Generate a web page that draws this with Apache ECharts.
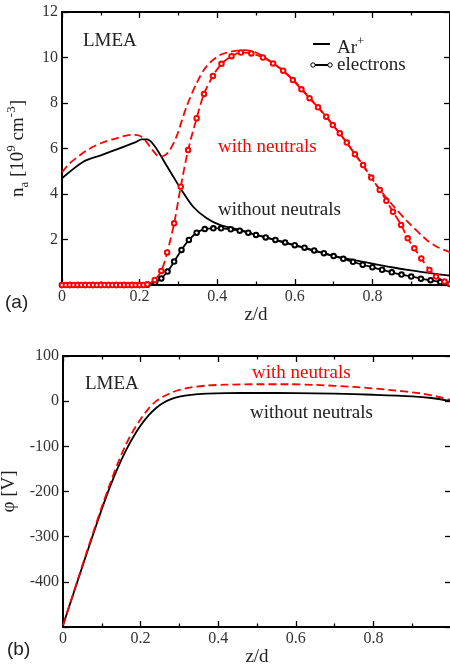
<!DOCTYPE html>
<html><head><meta charset="utf-8">
<script src="https://cdn.jsdelivr.net/npm/echarts@6/dist/echarts.min.js"></script>
<style>html,body{margin:0;padding:0;background:#fff}#c{width:450px;height:664px}</style>
</head><body><div id="c"></div>
<script>
// ---- panel (a): densities n_a [10^9 cm^-3] vs z/d ----
const zArNoN = [0, 0.055, 0.1, 0.15, 0.19, 0.205, 0.22, 0.24, 0.266, 0.287, 0.308, 0.338, 0.373, 0.407, 0.458, 0.5, 0.55, 0.6, 0.65, 0.7, 0.75, 0.8, 0.85, 0.9, 0.95, 1.0];
const arNoN  = [4.69, 5.42, 5.7, 6.02, 6.28, 6.4, 6.4, 6.08, 5.35, 4.76, 4.18, 3.44, 2.93, 2.64, 2.42, 2.21, 1.97, 1.74, 1.5, 1.28, 1.1, 0.94, 0.78, 0.64, 0.52, 0.41];

const zElNoN = [0, 0.02, 0.04, 0.06, 0.08, 0.1, 0.12, 0.14, 0.16, 0.18, 0.2, 0.22, 0.24, 0.256, 0.272, 0.289, 0.308, 0.327, 0.347, 0.368, 0.39, 0.41, 0.435, 0.458, 0.48, 0.5, 0.525, 0.55, 0.575, 0.6, 0.625, 0.65, 0.675, 0.7, 0.725, 0.75, 0.775, 0.8, 0.825, 0.85, 0.875, 0.9, 0.925, 0.95, 0.975, 1.0];
const elNoN  = [0, 0, 0, 0, 0, 0, 0, 0, 0, 0, 0, 0.01, 0.1, 0.29, 0.59, 1.03, 1.54, 1.98, 2.3, 2.46, 2.49, 2.49, 2.45, 2.39, 2.3, 2.2, 2.09, 1.98, 1.87, 1.75, 1.64, 1.52, 1.4, 1.27, 1.15, 1.02, 0.89, 0.78, 0.67, 0.56, 0.46, 0.37, 0.28, 0.21, 0.13, 0.04];

const zArN = [0, 0.02, 0.046, 0.07, 0.1, 0.14, 0.18, 0.2, 0.215, 0.23, 0.252, 0.265, 0.278, 0.295, 0.321, 0.347, 0.372, 0.407, 0.45, 0.47, 0.5, 0.55, 0.6, 0.65, 0.7, 0.75, 0.8, 0.82, 0.85, 0.89, 0.94, 0.97, 1.0];
const arN  = [4.95, 5.35, 5.7, 5.98, 6.23, 6.45, 6.6, 6.56, 6.35, 6.0, 5.64, 5.7, 5.93, 6.52, 7.84, 8.87, 9.6, 10.11, 10.3, 10.32, 10.22, 9.68, 8.95, 8.0, 7.0, 5.87, 4.65, 4.17, 3.55, 2.8, 1.98, 1.65, 1.44];

const zElN = [0, 0.01, 0.02, 0.03, 0.04, 0.05, 0.06, 0.07, 0.08, 0.09, 0.1, 0.11, 0.12, 0.13, 0.14, 0.15, 0.16, 0.17, 0.18, 0.19, 0.2, 0.21, 0.22, 0.239, 0.256, 0.271, 0.289, 0.306, 0.325, 0.347, 0.366, 0.389, 0.411, 0.437, 0.461, 0.488, 0.518, 0.544, 0.57, 0.595, 0.617, 0.638, 0.66, 0.681, 0.698, 0.716, 0.734, 0.755, 0.776, 0.797, 0.819, 0.836, 0.853, 0.874, 0.891, 0.908, 0.926, 0.947, 0.964, 0.986, 1.0];
const elN  = [0, 0, 0, 0, 0, 0, 0, 0, 0, 0, 0, 0, 0, 0, 0, 0, 0, 0, 0, 0, 0, 0, 0.03, 0.22, 0.62, 1.43, 2.71, 4.32, 5.93, 7.33, 8.4, 9.19, 9.72, 10.06, 10.22, 10.18, 10.0, 9.74, 9.42, 9.01, 8.6, 8.21, 7.81, 7.4, 7.03, 6.67, 6.26, 5.75, 5.27, 4.72, 4.18, 3.7, 3.22, 2.64, 2.05, 1.61, 1.17, 0.66, 0.37, 0.15, 0.05];

// ---- panel (b): potential phi [V] vs z/d ----
const zPhiNoN = [0, 0.02, 0.04, 0.06, 0.08, 0.1, 0.12, 0.14, 0.16, 0.18, 0.2, 0.22, 0.24, 0.26, 0.28, 0.3, 0.33, 0.37, 0.42, 0.5, 0.6, 0.7, 0.8, 0.9, 0.95, 1.0];
const phiNoN  = [-496, -444, -392, -340, -289, -239, -192, -150, -113, -81, -54, -32, -15, -3, 5, 10, 14, 16.5, 17.8, 18.2, 17.8, 16.5, 14.2, 10.8, 7, 0];
const zPhiN = [0, 0.02, 0.04, 0.06, 0.08, 0.1, 0.12, 0.14, 0.16, 0.18, 0.2, 0.22, 0.24, 0.26, 0.28, 0.3, 0.33, 0.37, 0.42, 0.5, 0.58, 0.65, 0.75, 0.84, 0.92, 0.96, 1.0];
const phiN  = [-496, -443, -390, -337, -285, -234, -186, -140, -100, -67, -40, -17, 0, 11, 19, 25, 30.5, 34.5, 36.5, 37.5, 37.5, 36, 31.5, 25, 17.5, 11, 3];

// tick settings
const xTicks = {min: 0, max: 1, interval: 0.2};
const yTicksA = {min: 0, max: 12, interval: 2};
const yTicksB = {min: -500, max: 100, interval: 100};

const SERIF = '"Liberation Serif", "DejaVu Serif", serif';
const SANS = '"Liberation Sans", Arial, sans-serif';
const RED = '#ff0000';
const zip = (z, v) => z.map((x, i) => [x, v[i]]);

function xAx(g, bottom) {
  return {
    type: 'value', gridIndex: g, min: xTicks.min, max: xTicks.max, interval: xTicks.interval,
    position: bottom ? 'bottom' : 'top',
    axisLine: {show: true, onZero: false, lineStyle: {color: '#000', width: 2}},
    axisTick: {show: true, inside: true, length: 6, lineStyle: {color: '#000', width: 1.3}},
    minorTick: {show: true, splitNumber: 2, length: 3.5, lineStyle: {color: '#000', width: 1.3}},
    splitLine: {show: false}, minorSplitLine: {show: false},
    axisLabel: bottom ? {show: true, margin: 4, color: '#333', fontFamily: SERIF, fontSize: 16,
      formatter: v => (v >= 1 ? '' : String(v))} : {show: false},
    name: bottom ? 'z/d' : '', nameLocation: 'middle', nameGap: 12,
    nameTextStyle: {fontFamily: SERIF, fontSize: 19, color: '#222'}
  };
}
function yAx(g, left, t, name, rich) {
  return {
    type: 'value', gridIndex: g, min: t.min, max: t.max, interval: t.interval,
    position: left ? 'left' : 'right',
    axisLine: {show: true, onZero: false, lineStyle: {color: '#000', width: 2}},
    axisTick: {show: true, inside: true, length: 6, lineStyle: {color: '#000', width: 1.3}},
    splitLine: {show: false},
    axisLabel: left ? {show: true, margin: 4, color: '#333', fontFamily: SERIF, fontSize: 16,
      formatter: v => (v === t.min ? '' : String(v))} : {show: false},
    name: left ? name : '', nameLocation: 'middle', nameRotate: 90, nameGap: 27,
    nameTextStyle: {fontFamily: SERIF, fontSize: 19, color: '#222', rich: rich}
  };
}
const richName = {
  n: {fontFamily: SERIF, fontSize: 19, color: '#222', lineHeight: 26, verticalAlign: 'middle'},
  p: {fontFamily: SERIF, fontSize: 13, color: '#222', lineHeight: 13, verticalAlign: 'top'},
  s: {fontFamily: SERIF, fontSize: 13, color: '#222', lineHeight: 13, verticalAlign: 'bottom'}
};

function line(xi, yi, data, color, dashed, markers) {
  return {
    type: 'line', xAxisIndex: xi, yAxisIndex: yi, data: data,
    smooth: 0.3, showSymbol: markers, showAllSymbol: true,
    symbol: 'emptyCircle', symbolSize: 4.5,
    itemStyle: {color: color, borderWidth: 1},
    lineStyle: {color: color, width: 1.8, type: dashed ? [8, 4] : 'solid'},
    emphasis: {disabled: true}, silent: true, animation: false, clip: true
  };
}
function txt(x, y, text, opts) {
  return Object.assign({type: 'text', x: x, y: y, silent: true,
    style: Object.assign({text: text, font: '19px ' + SERIF, fill: '#222',
      textAlign: 'left', align: 'left', textVerticalAlign: 'middle', verticalAlign: 'middle'}, opts || {})});
}

const chart = echarts.init(document.getElementById('c'), null, {renderer: 'canvas'});
chart.setOption({
  animation: false,
  backgroundColor: '#fff',
  grid: [
    {left: 62, top: 12, width: 388, height: 273, outerBoundsMode: 'none', containLabel: false},
    {left: 63, top: 356, width: 388, height: 271, outerBoundsMode: 'none', containLabel: false}
  ],
  xAxis: [xAx(0, true), xAx(0, false), xAx(1, true), xAx(1, false)],
  yAxis: [
    yAx(0, true, yTicksA, '{n|n}{s|a}{n| [10}{p|9}{n| cm}{p|-3}{n|]}', richName),
    yAx(0, false, yTicksA, '', richName),
    yAx(1, true, yTicksB, '{n|φ [V]}', richName),
    yAx(1, false, yTicksB, '', richName)
  ],
  series: [
    line(0, 0, zip(zArNoN, arNoN), '#000', false, false),
    line(0, 0, zip(zElNoN, elNoN), '#000', false, true),
    line(0, 0, zip(zArN, arN), RED, true, false),
    line(0, 0, zip(zElN, elN), RED, true, true),
    line(2, 2, zip(zPhiNoN, phiNoN), '#000', false, false),
    line(2, 2, zip(zPhiN, phiN), RED, true, false)
  ],
  graphic: [
    txt(83, 41, 'LMEA'),
    txt(218, 147, 'with neutrals', {fill: RED}),
    txt(218, 210, 'without neutrals'),
    {type: 'line', silent: true, shape: {x1: 313, y1: 44, x2: 330, y2: 44}, style: {stroke: '#000', lineWidth: 2}},
    txt(337, 48, '{n|Ar}{p|+}', {rich: {
      n: {font: '19px ' + SERIF, fill: '#222', lineHeight: 26, verticalAlign: 'middle'},
      p: {font: '13px ' + SERIF, fill: '#222', lineHeight: 13, verticalAlign: 'top'}}}),
    {type: 'line', silent: true, shape: {x1: 313, y1: 65, x2: 330, y2: 65}, style: {stroke: '#000', lineWidth: 2}},
    {type: 'circle', silent: true, shape: {cx: 313, cy: 65, r: 2.2}, style: {fill: '#fff', stroke: '#000', lineWidth: 1}},
    {type: 'circle', silent: true, shape: {cx: 330, cy: 65, r: 2.2}, style: {fill: '#fff', stroke: '#000', lineWidth: 1}},
    txt(337, 65, 'electrons'),
    txt(5, 303, '(a)', {font: '19px ' + SANS}),
    txt(85, 384, 'LMEA'),
    txt(252, 373, 'with neutrals', {fill: RED}),
    txt(250, 413, 'without neutrals'),
    txt(7, 650, '(b)', {font: '19px ' + SANS})
  ]
});
</script>
</body></html>
